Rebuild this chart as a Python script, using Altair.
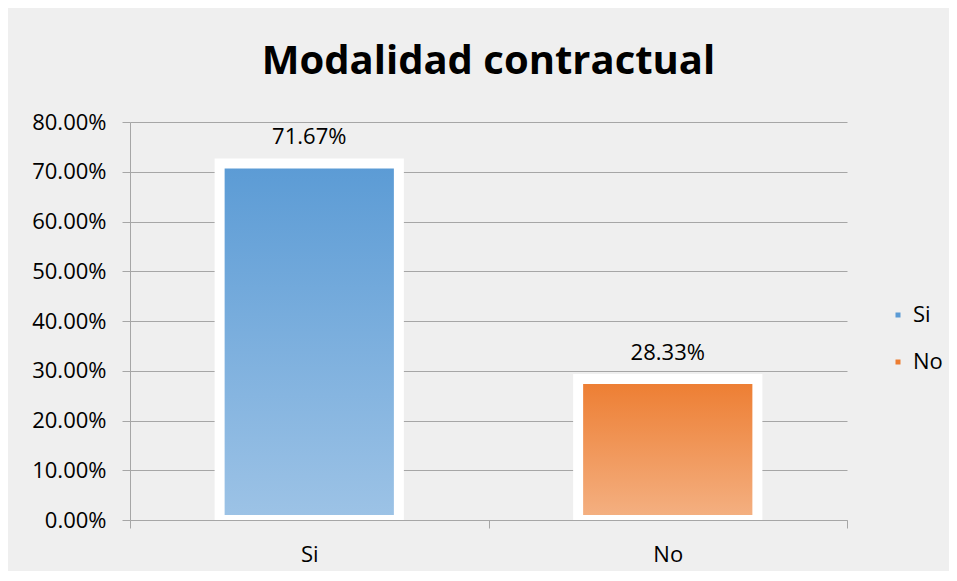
import altair as alt
import pandas as pd

categories = ["Si", "No"]
values = [0.7167, 0.2833]
colors_top = ["#5b9bd5", "#ed7d31"]
colors_bottom = ["#9dc3e6", "#f4b183"]
y_ticks = [0.0, 0.1, 0.2, 0.3, 0.4, 0.5, 0.6, 0.7, 0.8]

FONT = "Open Sans"
GRID = "#a6a6a6"

df = pd.DataFrame({"cat": categories, "val": values})

x_enc = alt.X(
    "cat:N", sort=categories, title=None,
    scale=alt.Scale(paddingInner=0, paddingOuter=0),
    axis=alt.Axis(labelAngle=0, labelFontSize=22, labelFont=FONT, labelColor="#000000",
                  tickBand="extent", tickSize=8, tickColor=GRID, domainColor=GRID,
                  labelPadding=16, grid=False),
)
y_enc = alt.Y(
    "val:Q", title=None,
    scale=alt.Scale(domain=[0, 0.8], nice=False),
    axis=alt.Axis(values=y_ticks, format=".2%", labelFontSize=22, labelFont=FONT,
                  labelColor="#000000", tickSize=8, tickColor=GRID, domainColor=GRID,
                  gridColor=GRID, grid=True, labelPadding=16),
)

base = alt.Chart(df)

layers = []
for cat, top, bottom in zip(categories, colors_top, colors_bottom):
    grad = alt.LinearGradient(
        gradient="linear", x1=0, x2=0, y1=0, y2=1,
        stops=[alt.GradientStop(color=top, offset=0),
               alt.GradientStop(color=bottom, offset=1)],
    )
    layers.append(
        base.transform_filter(alt.datum.cat == cat)
        .mark_bar(fill=grad, stroke="white", strokeWidth=10, clip=True,
                  width=alt.RelativeBandSize(0.5))
        .encode(x=x_enc, y=y_enc)
    )

labels = base.mark_text(dy=-26, fontSize=22, font=FONT, color="#000000").encode(
    x=alt.X("cat:N", sort=categories),
    y="val:Q",
    text=alt.Text("val:Q", format=".2%"),
)

legend_layer = base.mark_square(opacity=0, size=1).encode(
    x=alt.X("cat:N", sort=categories),
    y="val:Q",
    color=alt.Color(
        "cat:N", sort=categories,
        scale=alt.Scale(domain=categories, range=colors_top),
        legend=alt.Legend(title=None, orient="none", legendX=757, legendY=182,
                          symbolType="square", symbolSize=25, symbolOpacity=1,
                          labelFontSize=22, labelFont=FONT, labelColor="#000000",
                          labelOffset=4, rowPadding=25, padding=0),
    ),
)

chart = alt.layer(*layers, labels, legend_layer).properties(
    width=717, height=398,
    title=alt.TitleParams("Modalidad contractual", fontSize=40, font=FONT,
                          fontWeight="bold", color="#000000", anchor="middle", offset=29),
    autosize=alt.AutoSizeParams(type="none"),
    padding={"left": 122, "top": 114, "right": 102, "bottom": 51},
).configure(background="#efefef").configure_view(stroke=None)

chart.save("out.html", embed_options={"renderer": "svg", "actions": False})
